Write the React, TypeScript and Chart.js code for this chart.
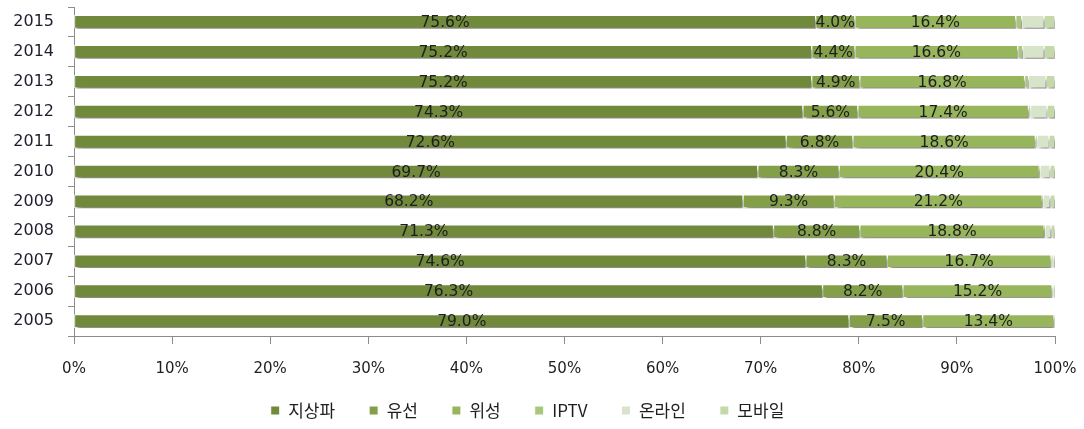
import React, { useEffect, useRef } from "react";
import { Chart, registerables } from "chart.js";

Chart.register(...registerables);

const years = ["2015", "2014", "2013", "2012", "2011", "2010", "2009", "2008", "2007", "2006", "2005"];
const seriesNames = ["지상파", "유선", "위성", "IPTV", "온라인", "모바일"];
const terrestrial = [75.6, 75.2, 75.2, 74.3, 72.6, 69.7, 68.2, 71.3, 74.6, 76.3, 79.0];
const cable = [4.0, 4.4, 4.9, 5.6, 6.8, 8.3, 9.3, 8.8, 8.3, 8.2, 7.5];
const satellite = [16.4, 16.6, 16.8, 17.4, 18.6, 20.4, 21.2, 18.8, 16.7, 15.2, 13.4];
const iptv = [0.6, 0.5, 0.4, 0.2, 0.2, 0.1, 0.1, 0.1, 0.0, 0.0, 0.0];
const online = [2.3, 2.2, 1.8, 1.7, 1.2, 1.0, 0.7, 0.6, 0.3, 0.2, 0.1];
const mobile = [1.1, 1.1, 0.9, 0.8, 0.6, 0.5, 0.5, 0.4, 0.1, 0.1, 0.0];
const xTicks = [0, 10, 20, 30, 40, 50, 60, 70, 80, 90, 100];

const colors = ["#71893b", "#83a049", "#97b55a", "#a9c67d", "#d8e4c9", "#c5d9a8"];
const FONT = "'DejaVu Sans', 'Noto Sans CJK KR', sans-serif";
const KFONT = "'Noto Sans CJK KR', 'DejaVu Sans', sans-serif";

export default function App() {
  const ref = useRef<HTMLCanvasElement>(null);
  useEffect(() => {
    document.body.style.margin = "0";
    const values = [terrestrial, cable, satellite, iptv, online, mobile];
    const legendFix = {
      id: "legendFix",
      beforeLayout(chart: any) {
        const lg = chart.legend;
        if (lg && !lg.__patched) {
          const orig = lg.fit.bind(lg);
          lg.fit = () => {
            orig();
            lg.height = 51;
          };
          lg.__patched = true;
        }
      },
      afterLayout(chart: any) {
        const lg = chart.legend;
        if (lg) {
          lg.top = 368;
          lg.bottom = 429;
        }
      },
    };
    const shadowPlugin = {
      id: "barShadow",
      beforeDatasetsDraw(chart: any) {
        const ctx = chart.ctx;
        ctx.save();
        ctx.shadowColor = "rgba(0,0,0,0.45)";
        ctx.shadowOffsetX = 2;
        ctx.shadowOffsetY = 4;
        ctx.shadowBlur = 3;
      },
      afterDatasetsDraw(chart: any) {
        chart.ctx.restore();
      },
    };
    const labelPlugin = {
      id: "segLabels",
      afterDatasetsDraw(chart: any) {
        const ctx = chart.ctx;
        ctx.save();
        ctx.font = `15.5px ${FONT}`;
        ctx.fillStyle = "#1e1e1e";
        ctx.textAlign = "center";
        ctx.textBaseline = "middle";
        for (let d = 0; d < 3; d++) {
          const meta = chart.getDatasetMeta(d);
          meta.data.forEach((el: any, i: number) => {
            const v = chart.data.datasets[d].data[i];
            const cx = (el.x + el.base) / 2;
            ctx.fillText(v.toFixed(1) + "%", cx, el.y + 1);
          });
        }
        ctx.restore();
      },
    };
    const chart = new Chart(ref.current!, {
      type: "bar",
      data: {
        labels: years,
        datasets: seriesNames.map((name, k) => ({
          label: name,
          data: values[k],
          backgroundColor: colors[k],
          borderColor: "#ffffff",
          borderWidth: 1,
          borderSkipped: false,
          barThickness: 13,
        })),
      },
      options: {
        indexAxis: "y",
        animation: false,
        responsive: false,
        maintainAspectRatio: false,
        layout: { padding: { top: 7, right: 29, bottom: 0, left: 0 } },
        plugins: {
          legend: {
            position: "bottom",
            labels: {
              boxWidth: 9,
              boxHeight: 9,
              padding: 34,
              color: "#1e1e1e",
              font: { family: KFONT, size: 17 },
            },
          },
          tooltip: { enabled: false },
        },
        scales: {
          x: {
            stacked: true,
            min: 0,
            max: 100,
            afterBuildTicks(scale: any) {
              scale.ticks = xTicks.map((v) => ({ value: v }));
            },
            afterFit(scale: any) {
              scale.height = 42;
              scale.paddingLeft = 0;
              scale.paddingRight = 0;
            },
            ticks: {
              callback: (v: any) => v + "%",
              color: "#1e1e1e",
              font: { family: FONT, size: 15 },
              padding: 16,
              maxRotation: 0,
            },
            grid: { drawOnChartArea: false, drawTicks: true, tickLength: 8, color: "#8c8c8c" },
            border: { display: true, color: "#8c8c8c" },
          },
          y: {
            stacked: true,
            afterFit(scale: any) {
              scale.width = 74;
              scale.paddingTop = 0;
              scale.paddingBottom = 0;
            },
            ticks: {
              color: "#1e1e2e",
              font: { family: FONT, size: 16 },
              padding: 14,
            },
            grid: { drawOnChartArea: false, drawTicks: true, tickLength: 6, color: "#8c8c8c", offset: true },
            border: { display: true, color: "#8c8c8c" },
          },
        },
      } as any,
      plugins: [legendFix, shadowPlugin, labelPlugin],
    });
    return () => chart.destroy();
  }, []);
  return <canvas ref={ref} width={1084} height={429} style={{ display: "block" }} />;
}
